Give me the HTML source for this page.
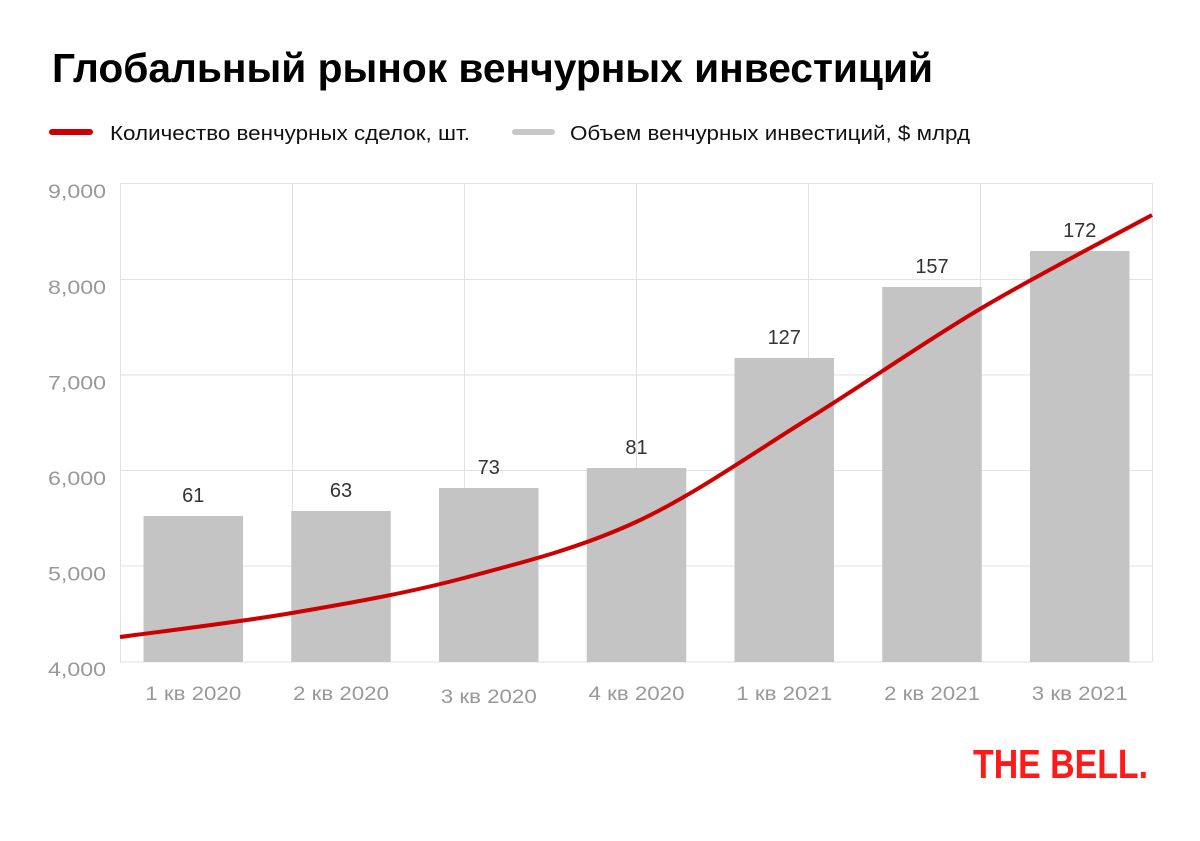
<!DOCTYPE html>
<html><head><meta charset="utf-8"><style>
html,body{margin:0;padding:0;background:#fff;}
svg{display:block;}
text{font-family:"Liberation Sans","Noto Sans CJK SC",sans-serif;}
</style></head><body>
<svg width="1200" height="841" viewBox="0 0 1200 841" xmlns="http://www.w3.org/2000/svg">
<rect width="1200" height="841" fill="#fff"/>
<text x="52" y="82" font-size="41" font-weight="bold" fill="#000" textLength="881" lengthAdjust="spacingAndGlyphs">Глобальный рынок венчурных инвестиций</text>
<line x1="52" y1="132" x2="90" y2="132" stroke="#cc0000" stroke-width="6" stroke-linecap="round"/>
<text x="110" y="140" font-size="20" fill="#111" textLength="360" lengthAdjust="spacingAndGlyphs">Количество венчурных сделок, шт.</text>
<line x1="515" y1="132" x2="552" y2="132" stroke="#c8c8c8" stroke-width="6" stroke-linecap="round"/>
<text x="570" y="140" font-size="20" fill="#111" textLength="400" lengthAdjust="spacingAndGlyphs">Объем венчурных инвестиций, $ млрд</text>
<g stroke="#e2e2e2" stroke-width="1">
<line x1="120" y1="183.5" x2="1152" y2="183.5"/>
<line x1="120" y1="279.5" x2="1152" y2="279.5"/>
<line x1="120" y1="375" x2="1152" y2="375"/>
<line x1="120" y1="470.5" x2="1152" y2="470.5"/>
<line x1="120" y1="566" x2="1152" y2="566"/>
<line x1="120" y1="662" x2="1152" y2="662"/>
<line x1="120.5" y1="183" x2="120.5" y2="662"/>
<line x1="292.5" y1="183" x2="292.5" y2="662"/>
<line x1="464.5" y1="183" x2="464.5" y2="662"/>
<line x1="636.5" y1="183" x2="636.5" y2="662"/>
<line x1="808.5" y1="183" x2="808.5" y2="662"/>
<line x1="980.5" y1="183" x2="980.5" y2="662"/>
<line x1="1152.5" y1="183" x2="1152.5" y2="662"/>
</g>
<g fill="#999" font-size="19" text-anchor="end">
<text x="106" y="198" textLength="58" lengthAdjust="spacingAndGlyphs">9,000</text>
<text x="106" y="294" textLength="58" lengthAdjust="spacingAndGlyphs">8,000</text>
<text x="106" y="389.5" textLength="58" lengthAdjust="spacingAndGlyphs">7,000</text>
<text x="106" y="485" textLength="58" lengthAdjust="spacingAndGlyphs">6,000</text>
<text x="106" y="580.5" textLength="58" lengthAdjust="spacingAndGlyphs">5,000</text>
<text x="106" y="676" textLength="58" lengthAdjust="spacingAndGlyphs">4,000</text>
</g>
<g fill="#c4c4c4">
<rect x="143.5" y="516" width="99.5" height="146"/>
<rect x="291.25" y="511" width="99.5" height="151"/>
<rect x="439" y="488" width="99.5" height="174"/>
<rect x="586.75" y="468" width="99.5" height="194"/>
<rect x="734.5" y="358" width="99.5" height="304"/>
<rect x="882.25" y="287" width="99.5" height="375"/>
<rect x="1030" y="251" width="99.5" height="411"/>
</g>
<g fill="#333" font-size="20" text-anchor="middle">
<text x="193.25" y="502">61</text>
<text x="341" y="497">63</text>
<text x="488.75" y="474">73</text>
<text x="636.5" y="454">81</text>
<text x="784.25" y="344">127</text>
<text x="932" y="273">157</text>
<text x="1079.75" y="237">172</text>
</g>
<g fill="#999" font-size="19" text-anchor="middle">
<text x="193.25" y="700" textLength="96" lengthAdjust="spacingAndGlyphs">1 кв 2020</text>
<text x="341" y="700" textLength="96" lengthAdjust="spacingAndGlyphs">2 кв 2020</text>
<text x="488.75" y="703" textLength="96" lengthAdjust="spacingAndGlyphs">3 кв 2020</text>
<text x="636.5" y="700" textLength="96" lengthAdjust="spacingAndGlyphs">4 кв 2020</text>
<text x="784.25" y="700" textLength="96" lengthAdjust="spacingAndGlyphs">1 кв 2021</text>
<text x="932" y="700" textLength="96" lengthAdjust="spacingAndGlyphs">2 кв 2021</text>
<text x="1079.75" y="700" textLength="96" lengthAdjust="spacingAndGlyphs">3 кв 2021</text>
</g>
<path d="M120,637 C148.7,633 234.7,622.8 292,613 C349.3,603.2 406.7,593.2 464,578 C521.3,562.8 578.7,548.5 636,522 C693.3,495.5 750.7,454.5 808,419 C865.3,383.5 922.7,343 980,309 C1037.3,275 1123.3,230.7 1152,215" fill="none" stroke="#cc0000" stroke-width="4"/>
<text x="973" y="778" font-size="41" font-weight="bold" fill="#ff1a1a" textLength="175" lengthAdjust="spacingAndGlyphs">THE BELL.</text>
</svg>
</body></html>
